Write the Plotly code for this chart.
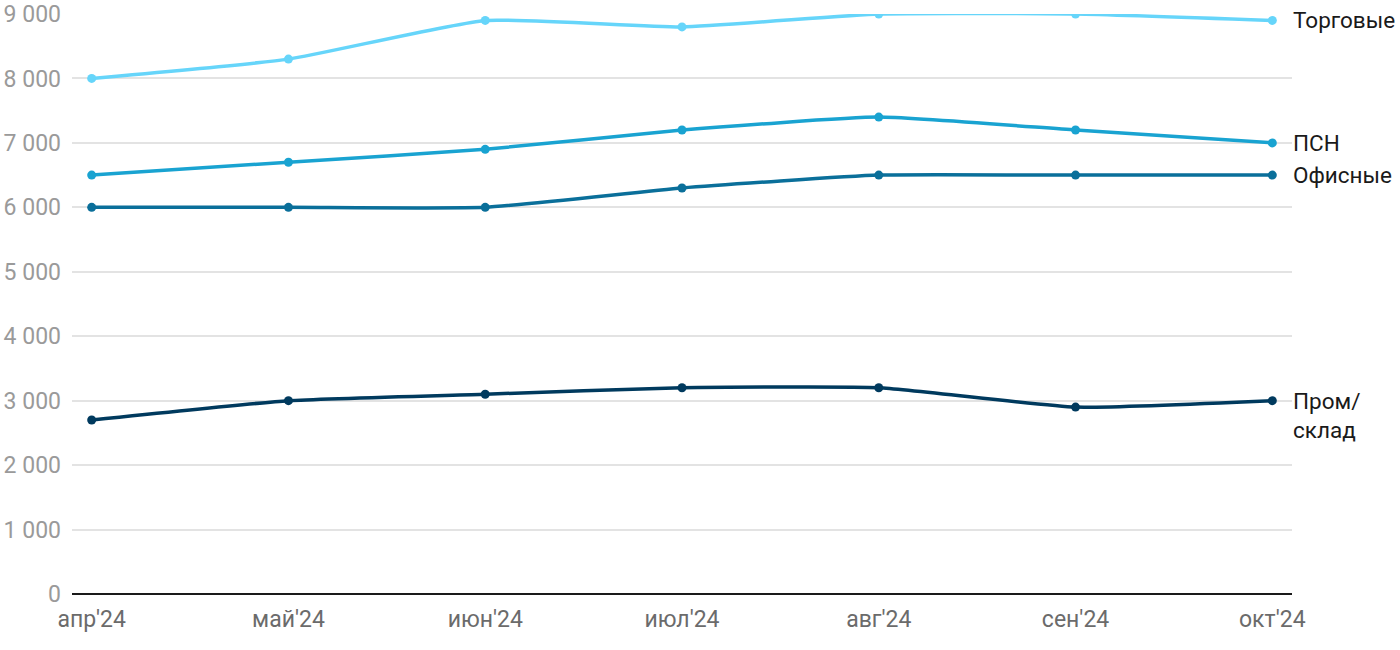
import plotly.graph_objects as go

months = ["апр'24", "май'24", "июн'24", "июл'24", "авг'24", "сен'24", "окт'24"]
torg = [8000, 8300, 8900, 8800, 9000, 9000, 8900]
psn = [6500, 6700, 6900, 7200, 7400, 7200, 7000]
office = [6000, 6000, 6000, 6300, 6500, 6500, 6500]
prom = [2700, 3000, 3100, 3200, 3200, 2900, 3000]

series = [
    ("Торговые", torg, "#66d5fa"),
    ("ПСН", psn, "#19a3d1"),
    ("Офисные", office, "#0a6f9a"),
    ("Пром/<br>склад", prom, "#003a5e"),
]

fig = go.Figure()
xs = list(range(len(months)))
for name, vals, color in series:
    fig.add_trace(go.Scatter(
        x=xs, y=vals, mode="lines+markers",
        line=dict(color=color, width=3.5, shape="spline", smoothing=0.45),
        marker=dict(color=color, size=9),
        showlegend=False, hoverinfo="y",
    ))
    two = "<br>" in name
    fig.add_annotation(
        x=1, xref="paper", y=vals[-1], yref="y",
        text=name, showarrow=False, xanchor="left",
        yanchor="top" if two else "middle", yshift=15 if two else 0, xshift=-1,
        align="left",
        font=dict(family="Roboto", size=22.5, color="#1a1a1a"),
    )

fig.update_layout(
    width=1400, height=650,
    margin=dict(l=72, r=108, t=14, b=56),
    plot_bgcolor="white", paper_bgcolor="white",
    separators=", ",
    font=dict(family="Roboto"),
    xaxis=dict(
        tickmode="array", tickvals=xs, ticktext=months,
        range=[-0.1, 6.1], showgrid=False, zeroline=False,
        showline=False, ticks="", automargin=False,
        ticklabelstandoff=9, ticklabeloverflow="allow",
        tickfont=dict(size=23, color="#6b6b6b"),
    ),
    yaxis=dict(
        range=[0, 9000], dtick=1000, tickformat=",d",
        showgrid=True, gridcolor="#e3e3e3", gridwidth=1.5,
        zeroline=True, zerolinecolor="#1a1a1a", zerolinewidth=2,
        ticks="", ticklabelstandoff=10, automargin=False,
        ticklabeloverflow="allow",
        tickfont=dict(size=23, color="#9a9a9a"),
    ),
)

fig.write_html("out.html", config={"displayModeBar": False},
               post_script="document.body.style.margin='0';")
